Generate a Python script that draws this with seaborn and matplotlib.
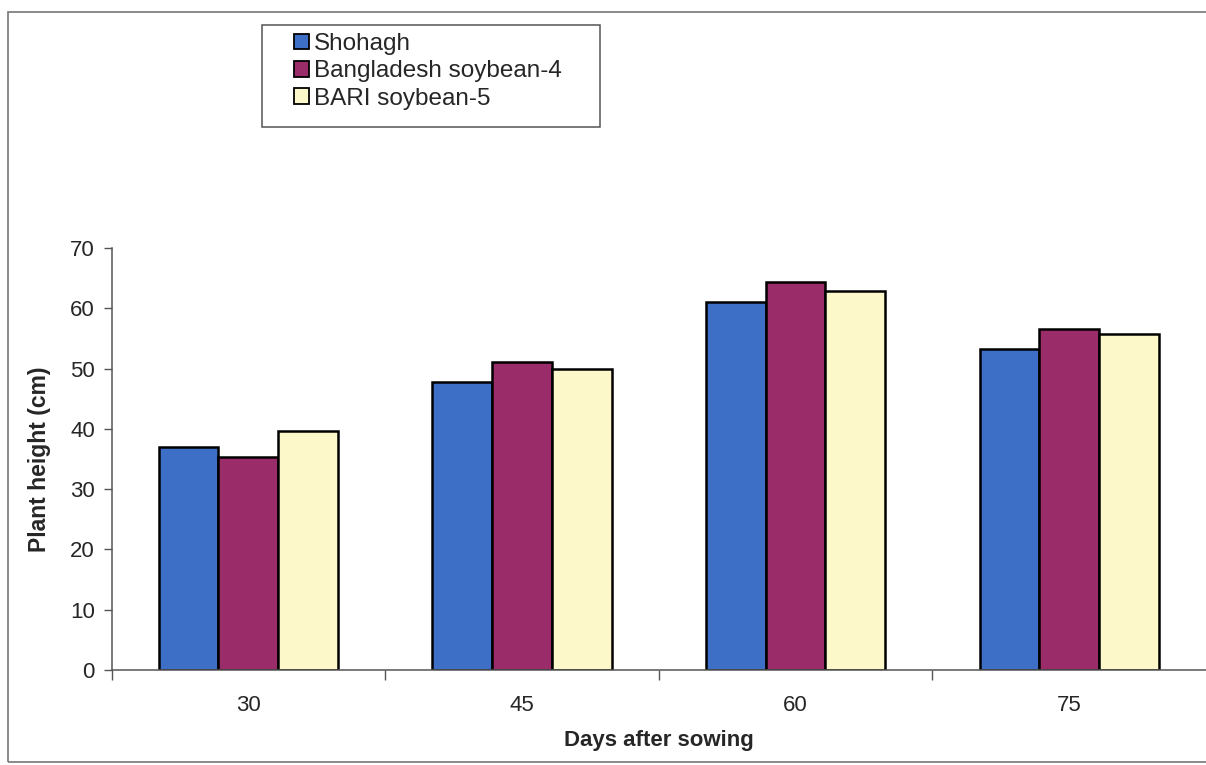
import pandas as pd
import numpy as np
import seaborn as sns
import matplotlib.pyplot as plt
from matplotlib.patches import Rectangle

# Data
days = ['30', '45', '60', '75']
varieties = ['Shohagh', 'Bangladesh soybean-4', 'BARI soybean-5']
shohagh = [37.0, 47.7, 61.0, 53.2]
bd_soybean4 = [35.4, 51.1, 64.4, 56.6]
bari_soybean5 = [39.6, 50.0, 62.9, 55.7]

df = pd.DataFrame({
    'day': days * 3,
    'variety': np.repeat(varieties, len(days)),
    'height': shohagh + bd_soybean4 + bari_soybean5,
})

palette = {'Shohagh': '#3d6fc6', 'Bangladesh soybean-4': '#992c69', 'BARI soybean-5': '#fdf8c9'}

sns.set_style("white")
plt.rcParams['font.family'] = ['Liberation Sans', 'DejaVu Sans']

fig = plt.figure(figsize=(12.06, 7.65), dpi=100)
ax = fig.add_axes([0.0925, 0.124, 0.9075, 0.552])

sns.barplot(data=df, x='day', y='height', hue='variety', order=days, hue_order=varieties,
            palette=palette, width=0.655, gap=0, edgecolor='black', linewidth=1.8,
            saturation=1, ax=ax)

ax.set_ylim(0, 70)
ax.set_xlim(-0.5, 3.5)
ax.set_yticks(range(0, 71, 10))
ax.tick_params(axis='y', labelsize=16, length=6, width=1, color='#555555', direction='out', pad=6, left=True)

# Excel style: tick marks between categories, labels centred
ax.set_xticks(np.arange(len(days)))
ax.set_xticklabels(days, fontsize=16)
ax.tick_params(axis='x', which='major', length=0, pad=18)
ax.set_xticks(np.arange(len(days)) - 0.5, minor=True)
ax.tick_params(axis='x', which='minor', length=7, width=1, color='#555555', direction='out', bottom=True)

for s in ['top', 'right']:
    ax.spines[s].set_visible(False)
for s in ['left', 'bottom']:
    ax.spines[s].set_color('#555555')
    ax.spines[s].set_linewidth(1.1)

ax.set_xlabel('Days after sowing', fontsize=16, fontweight='bold', labelpad=10)
ax.set_ylabel('Plant height (cm)', fontsize=16.5, fontweight='bold', labelpad=14)

leg = ax.legend(loc='upper left', bbox_to_anchor=(294 / 1206, 1 - 33 / 765), bbox_transform=fig.transFigure,
                borderaxespad=0, fontsize=17.5, frameon=False,
                handlelength=0.62, handleheight=0.62, handletextpad=0.2, labelspacing=0.22,
                borderpad=0, title=None)
for h in leg.legend_handles:
    h.set_linewidth(1.3)
    h.set_edgecolor('black')

# legend box and chart area border of the original
fig.patches.append(Rectangle((262 / 1206, 1 - 127 / 765), 338 / 1206, 102 / 765, transform=fig.transFigure,
                             fill=False, edgecolor='#555555', linewidth=1.1))
fig.patches.append(Rectangle((0.0066, 0.004), 1.2, 0.98, transform=fig.transFigure,
                             fill=False, edgecolor='#777777', linewidth=1.2))

plt.savefig('out.png', dpi=100)
